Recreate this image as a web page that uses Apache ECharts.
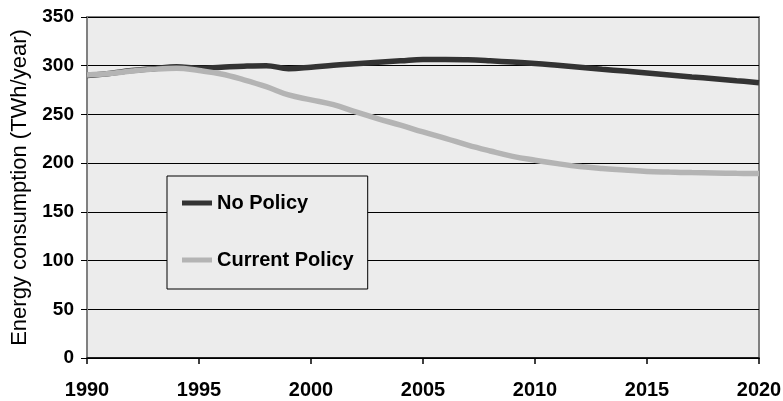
<!DOCTYPE html>
<html>
<head>
<meta charset="utf-8">
<script src="https://cdn.jsdelivr.net/npm/echarts@6/dist/echarts.min.js"></script>
<style>
html,body{margin:0;padding:0;background:#fff;}
#chart{width:783px;height:401px;}
</style>
</head>
<body>
<div id="chart"></div>
<script>
const years = [1990,1991,1992,1993,1994,1995,1996,1997,1998,1999,2000,2001,2002,2003,2004,2005,2006,2007,2008,2009,2010,2011,2012,2013,2014,2015,2016,2017,2018,2019,2020];
const noPolicy = [290,292,295,297,299,297.5,298.5,299.5,300,297,298.5,300.5,302,303.5,305,306.5,306.5,306,305,303.8,302.3,300.4,298.4,296.4,294.5,292.5,290.5,288.5,286.6,284.6,282.6];
const currentPolicy = [290.5,292,294.5,296.5,297.5,295,291.5,285.5,278.5,270,265,260,252.5,245.5,239,232,225.5,218.5,212.5,207,203,199.5,196.5,194.5,193,191.5,190.8,190.3,190,189.5,189.3];
const seriesNames = ['No Policy','Current Policy'];
const yTicks = {min:0, max:350, interval:50};
const xTicks = {min:1990, max:2020, interval:5};

const font = 'Liberation Sans, Arial, sans-serif';
const chart = echarts.init(document.getElementById('chart'));
chart.setOption({
  animation:false,
  backgroundColor:'#ffffff',
  grid:{left:87,top:17,right:24,bottom:43,containLabel:false,outerBoundsMode:'none',show:true,backgroundColor:'#ececec',borderColor:'#808080',borderWidth:2},
  legend:{
    orient:'vertical',left:167,top:176,
    backgroundColor:'#ececec',borderColor:'#000',borderWidth:1,
    padding:[17,14,19,15],itemGap:37,itemWidth:30,itemHeight:5,
    icon:'rect',
    textStyle:{fontFamily:font,fontWeight:'bold',fontSize:20,color:'#000'},
    data:seriesNames
  },
  xAxis:{
    type:'value',min:xTicks.min,max:xTicks.max,interval:xTicks.interval,
    axisLine:{show:true,lineStyle:{color:'#000',width:1.5}},
    axisTick:{show:true,length:6,lineStyle:{color:'#000',width:1.5}},
    axisLabel:{fontFamily:font,fontWeight:'bold',fontSize:20,color:'#000',margin:22,formatter:v=>String(v)},
    splitLine:{show:false}
  },
  yAxis:{
    type:'value',min:yTicks.min,max:yTicks.max,interval:yTicks.interval,
    name:'Energy consumption (TWh/year)',nameLocation:'middle',nameRotate:90,nameGap:53,
    nameTextStyle:{fontFamily:font,fontSize:22,color:'#000'},
    axisLine:{show:true,lineStyle:{color:'#808080',width:2}},
    axisTick:{show:true,length:6,lineStyle:{color:'#000',width:1}},
    axisLabel:{fontFamily:font,fontWeight:'bold',fontSize:19,color:'#000',margin:13},
    splitLine:{show:true,lineStyle:{color:'#000',width:1}}
  },
  series:[
    {name:seriesNames[0],type:'line',symbol:'none',smooth:0.4,z:2,
     data:years.map((y,i)=>[y,noPolicy[i]]),
     itemStyle:{color:'#333333'},lineStyle:{color:'#333333',width:5.5}},
    {name:seriesNames[1],type:'line',symbol:'none',smooth:0.4,z:3,
     data:years.map((y,i)=>[y,currentPolicy[i]]),
     itemStyle:{color:'#b4b4b4'},lineStyle:{color:'#b4b4b4',width:5.5}}
  ]
});
</script>
</body>
</html>
